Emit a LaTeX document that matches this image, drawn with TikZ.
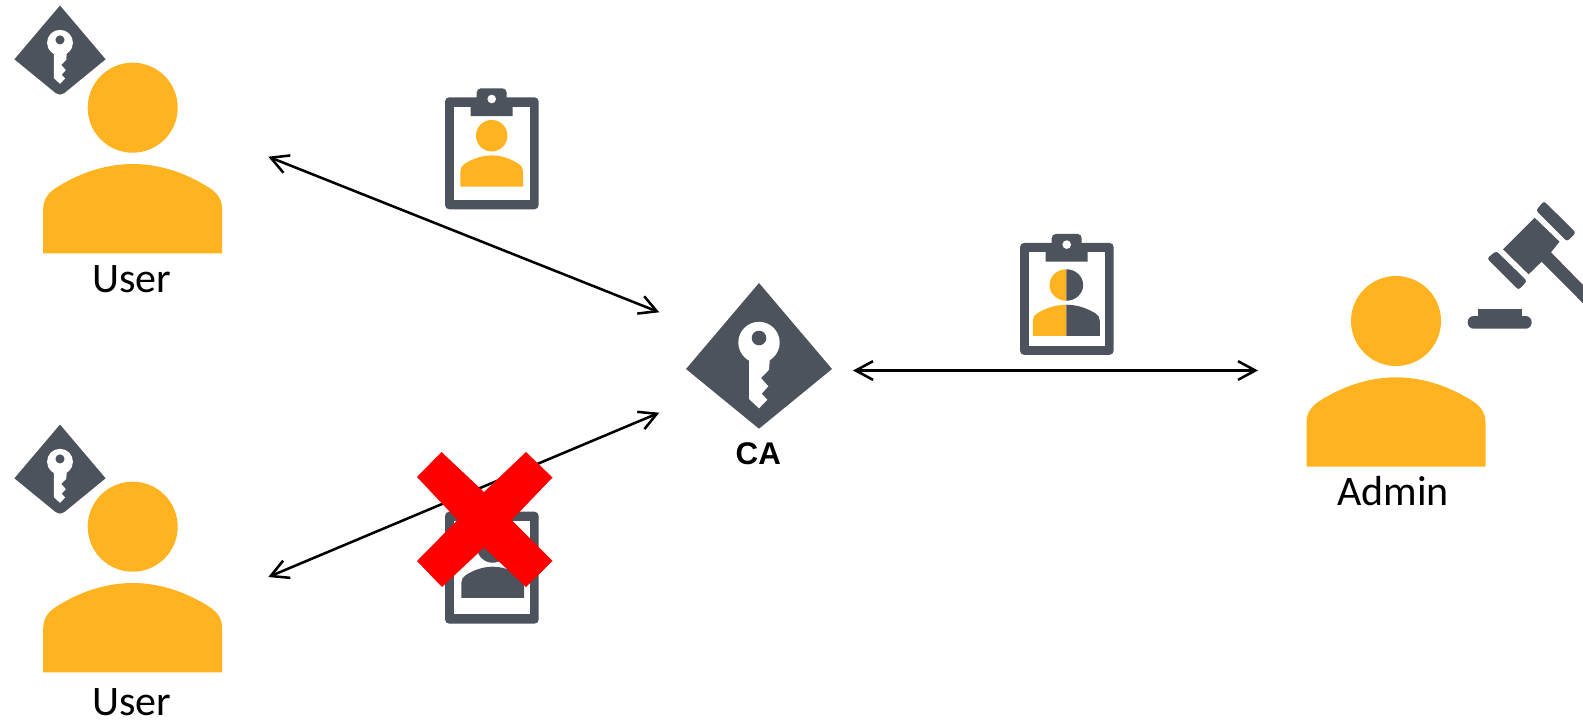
\documentclass[tikz,border=0pt]{standalone}
\usepackage{fontspec}
\setmainfont{Carlito}
\newfontfamily\labelsans{Liberation Sans}
\usetikzlibrary{arrows.meta}
\definecolor{amber}{HTML}{FFB320}
\definecolor{slate}{HTML}{4D535C}
\newcommand{\personpath}{(0,0) circle [radius=45]
  (-89.5,145.6) -- (-89.5,102) .. controls (-89.5,92) and (-85,86) .. (-78,81)
  .. controls (-55,66) and (-28,56.3) .. (0,56.3)
  .. controls (28,56.3) and (55,66) .. (78,81)
  .. controls (85,86) and (89.5,92) .. (89.5,102) -- (89.5,145.6) -- cycle}
\tikzset{
  pics/person/.style={code={\fill[amber] \personpath;}},
  pics/darkperson/.style={code={\fill[slate] \personpath;}},
  pics/splitperson/.style={code={
    \begin{scope}\clip (-100,-60) rectangle (0,160); \fill[amber] \personpath;\end{scope}
    \begin{scope}\clip (0,-60) rectangle (100,160); \fill[slate] \personpath;\end{scope}}},
  pics/clipboard/.style={code={
    \fill[slate,rounded corners=3.2pt] (0,0) rectangle (93.7,112);
    \fill[white] (9,9.4) rectangle (85,102.7);
    \fill[slate,rounded corners=3.2pt] (31.7,9) -- (31.7,-9) -- (61.7,-9) -- (61.7,9) -- cycle;
    \fill[slate] (31.7,0) rectangle (61.7,9.4) (25.7,9) rectangle (67.7,18.7);
    \fill[white] (46.7,1.7) circle [radius=4.3];}},
  pics/keydiamond/.style={code={
    \fill[slate] (-73,0) -- (0,-86) -- (73,0) [rounded corners=#1] -- (0,59.7) [sharp corners] -- cycle;
    \fill[white] (0,-26.5) circle [radius=20.7];
    \fill[white] (-10,-12) -- (-10,30) -- (0,39.3) -- (8.3,30.7) -- (2.7,24.7) -- (9.3,17.3) -- (2,9) -- (10,0.7) -- (11,-12) -- cycle;
    \fill[slate] (0,-31) circle [radius=7.3];}},
  userlabel/.style={anchor=base,inner sep=0pt,font=\fontsize{31.5}{36}\selectfont},
  link/.style={black,line width=1.9pt,{Straight Barb[length=13pt,width=14pt,line width=1.9pt]}-{Straight Barb[length=13pt,width=14pt,line width=1.9pt]}},
}
\begin{document}
\begin{tikzpicture}[x=0.75pt,y=-0.75pt]
\useasboundingbox (0,0) rectangle (1583,721);
% users
\pic[scale=.625] (keya) at (60,59.3) {keydiamond=4pt};
\pic (usera) at (132.7,107.7) {person};
\node[userlabel] (labela) at (132,292.2) {User};
\pic[scale=.625] (keyb) at (60,478.3) {keydiamond=4pt};
\pic (userb) at (132.7,526.7) {person};
\node[userlabel] (labelb) at (132,715) {User};
% CA
\pic (ca) at (759,369) {keydiamond=0pt};
\node[anchor=base,inner sep=0pt,font=\labelsans\bfseries\fontsize{23.5}{28}\selectfont] (calabel) at (758.3,464.5) {CA};
% admin
\pic (admin) at (1396,321) {person};
\node[userlabel] (labeladmin) at (1393,505.7) {Admin};
% gavel
\fill[slate] (1534.6,217.7) -- (1559.5,241.7) -- (1551,252.3) -- (1583,285) -- (1583,303.3) -- (1541.6,261.7) -- (1528.6,274.3) -- (1503,249.3) -- cycle;
\fill[slate,rounded corners=2pt] (1543.9,201) -- (1575.8,232.7) -- (1567,241.5) -- (1536,210.5) -- cycle;
\fill[slate,rounded corners=2pt] (1496.3,251) -- (1527,281) -- (1518.6,290) -- (1487,258.3) -- cycle;
\fill[slate] (1477.7,309.3) rectangle (1522,318);
\fill[slate,rounded corners=4.5pt] (1467.7,316) rectangle (1531.6,328.7);
% certificates
\pic (certa) at (445,97.3) {clipboard};
\pic[scale=.35] (certaperson) at (491.7,135.7) {person};
\pic (certb) at (1020,242.9) {clipboard};
\pic[xscale=.374,yscale=.35] (certbperson) at (1066.3,285) {splitperson};
\pic (certc) at (445,511.7) {clipboard};
\pic[scale=.35] (certcperson) at (492.7,547) {darkperson};
% connectors
\coordinate (enda) at (268.3,156.7);
\coordinate (caa) at (659.3,312.3);
\coordinate (endb) at (268.3,577);
\coordinate (cab) at (659.3,412.7);
\coordinate (cac) at (853,370.5);
\coordinate (adm) at (1258,370.5);
\draw[link] (enda) -- (caa);
\draw[link] (endb) -- (cab);
\draw[link] (cac) -- (adm);
% cross
\fill[red] (441.5,452) -- (484,492) -- (526,452) -- (552.5,477.5) -- (511.7,520) -- (552.5,561) -- (526,587) -- (484,547.5) -- (442,587) -- (417,561) -- (457.5,520) -- (417,477) -- cycle;
\end{tikzpicture}
\end{document}
